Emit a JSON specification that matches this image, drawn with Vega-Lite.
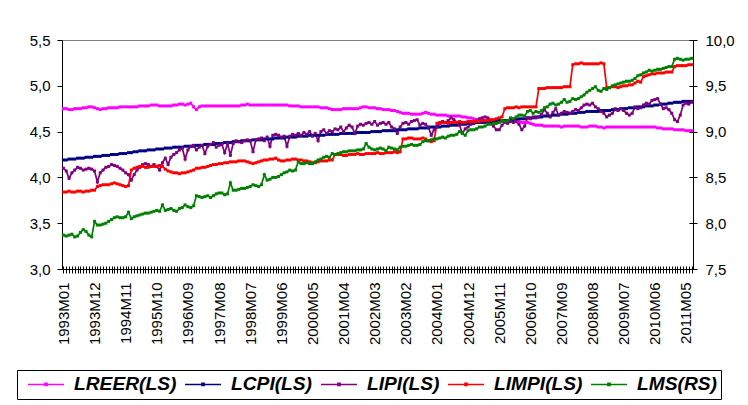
{
  "$schema": "https://vega.github.io/schema/vega-lite/v6.json",
  "width": 631,
  "height": 229,
  "autosize": {"type": "none"},
  "padding": {"left": 62, "top": 40, "right": 55, "bottom": 136},
  "background": "#ffffff",
  "config": {
    "font": "Liberation Sans",
    "view": {"stroke": "#808080", "strokeWidth": 1}
  },
  "datasets": {
    "monthly": [
      {"m":"1993M01","LREER":4.75,"LCPI":4.19,"LIPI":4.10,"LIMPI":3.84,"LMS":7.87},
      {"m":"1993M02","LREER":4.75,"LCPI":4.19,"LIPI":4.07,"LIMPI":3.84,"LMS":7.86},
      {"m":"1993M03","LREER":4.74,"LCPI":4.20,"LIPI":3.99,"LIMPI":3.85,"LMS":7.87},
      {"m":"1993M04","LREER":4.74,"LCPI":4.20,"LIPI":4.05,"LIMPI":3.84,"LMS":7.88},
      {"m":"1993M05","LREER":4.75,"LCPI":4.20,"LIPI":4.08,"LIMPI":3.84,"LMS":7.85},
      {"m":"1993M06","LREER":4.75,"LCPI":4.21,"LIPI":4.11,"LIMPI":3.85,"LMS":7.86},
      {"m":"1993M07","LREER":4.75,"LCPI":4.21,"LIPI":4.10,"LIMPI":3.85,"LMS":7.90},
      {"m":"1993M08","LREER":4.76,"LCPI":4.21,"LIPI":4.08,"LIMPI":3.84,"LMS":7.93},
      {"m":"1993M09","LREER":4.76,"LCPI":4.22,"LIPI":4.09,"LIMPI":3.85,"LMS":7.91},
      {"m":"1993M10","LREER":4.77,"LCPI":4.22,"LIPI":4.10,"LIMPI":3.85,"LMS":7.87},
      {"m":"1993M11","LREER":4.77,"LCPI":4.22,"LIPI":4.09,"LIMPI":3.86,"LMS":7.85},
      {"m":"1993M12","LREER":4.76,"LCPI":4.23,"LIPI":4.07,"LIMPI":3.86,"LMS":8.02},
      {"m":"1994M01","LREER":4.75,"LCPI":4.23,"LIPI":3.95,"LIMPI":3.90,"LMS":7.98},
      {"m":"1994M02","LREER":4.74,"LCPI":4.23,"LIPI":4.05,"LIMPI":3.91,"LMS":7.98},
      {"m":"1994M03","LREER":4.75,"LCPI":4.24,"LIPI":4.08,"LIMPI":3.92,"LMS":7.99},
      {"m":"1994M04","LREER":4.75,"LCPI":4.24,"LIPI":4.11,"LIMPI":3.92,"LMS":8.00},
      {"m":"1994M05","LREER":4.76,"LCPI":4.24,"LIPI":4.12,"LIMPI":3.92,"LMS":8.02},
      {"m":"1994M06","LREER":4.76,"LCPI":4.25,"LIPI":4.14,"LIMPI":3.93,"LMS":8.04},
      {"m":"1994M07","LREER":4.76,"LCPI":4.25,"LIPI":4.13,"LIMPI":3.94,"LMS":8.06},
      {"m":"1994M08","LREER":4.76,"LCPI":4.25,"LIPI":4.12,"LIMPI":3.93,"LMS":8.07},
      {"m":"1994M09","LREER":4.77,"LCPI":4.26,"LIPI":4.10,"LIMPI":3.92,"LMS":8.06},
      {"m":"1994M10","LREER":4.77,"LCPI":4.26,"LIPI":4.08,"LIMPI":3.91,"LMS":8.06},
      {"m":"1994M11","LREER":4.77,"LCPI":4.26,"LIPI":4.05,"LIMPI":3.90,"LMS":8.07},
      {"m":"1994M12","LREER":4.77,"LCPI":4.27,"LIPI":4.03,"LIMPI":3.91,"LMS":8.12},
      {"m":"1995M01","LREER":4.77,"LCPI":4.27,"LIPI":3.97,"LIMPI":4.08,"LMS":8.05},
      {"m":"1995M02","LREER":4.77,"LCPI":4.28,"LIPI":4.03,"LIMPI":4.10,"LMS":8.07},
      {"m":"1995M03","LREER":4.77,"LCPI":4.28,"LIPI":4.08,"LIMPI":4.11,"LMS":8.08},
      {"m":"1995M04","LREER":4.78,"LCPI":4.29,"LIPI":4.11,"LIMPI":4.12,"LMS":8.09},
      {"m":"1995M05","LREER":4.78,"LCPI":4.29,"LIPI":4.14,"LIMPI":4.12,"LMS":8.10},
      {"m":"1995M06","LREER":4.78,"LCPI":4.29,"LIPI":4.15,"LIMPI":4.11,"LMS":8.11},
      {"m":"1995M07","LREER":4.78,"LCPI":4.30,"LIPI":4.14,"LIMPI":4.11,"LMS":8.11},
      {"m":"1995M08","LREER":4.79,"LCPI":4.30,"LIPI":4.12,"LIMPI":4.12,"LMS":8.12},
      {"m":"1995M09","LREER":4.79,"LCPI":4.30,"LIPI":4.14,"LIMPI":4.12,"LMS":8.13},
      {"m":"1995M10","LREER":4.79,"LCPI":4.31,"LIPI":4.12,"LIMPI":4.12,"LMS":8.14},
      {"m":"1995M11","LREER":4.78,"LCPI":4.31,"LIPI":4.08,"LIMPI":4.13,"LMS":8.13},
      {"m":"1995M12","LREER":4.78,"LCPI":4.31,"LIPI":4.16,"LIMPI":4.12,"LMS":8.20},
      {"m":"1996M01","LREER":4.78,"LCPI":4.32,"LIPI":4.21,"LIMPI":4.09,"LMS":8.14},
      {"m":"1996M02","LREER":4.78,"LCPI":4.32,"LIPI":4.14,"LIMPI":4.07,"LMS":8.15},
      {"m":"1996M03","LREER":4.78,"LCPI":4.32,"LIPI":4.22,"LIMPI":4.06,"LMS":8.16},
      {"m":"1996M04","LREER":4.79,"LCPI":4.33,"LIPI":4.25,"LIMPI":4.05,"LMS":8.14},
      {"m":"1996M05","LREER":4.79,"LCPI":4.33,"LIPI":4.27,"LIMPI":4.05,"LMS":8.13},
      {"m":"1996M06","LREER":4.80,"LCPI":4.33,"LIPI":4.30,"LIMPI":4.04,"LMS":8.16},
      {"m":"1996M07","LREER":4.80,"LCPI":4.33,"LIPI":4.32,"LIMPI":4.05,"LMS":8.17},
      {"m":"1996M08","LREER":4.79,"LCPI":4.34,"LIPI":4.20,"LIMPI":4.05,"LMS":8.20},
      {"m":"1996M09","LREER":4.80,"LCPI":4.34,"LIPI":4.30,"LIMPI":4.06,"LMS":8.18},
      {"m":"1996M10","LREER":4.81,"LCPI":4.34,"LIPI":4.34,"LIMPI":4.07,"LMS":8.17},
      {"m":"1996M11","LREER":4.77,"LCPI":4.34,"LIPI":4.35,"LIMPI":4.08,"LMS":8.19},
      {"m":"1996M12","LREER":4.74,"LCPI":4.35,"LIPI":4.30,"LIMPI":4.10,"LMS":8.30},
      {"m":"1997M01","LREER":4.77,"LCPI":4.35,"LIPI":4.33,"LIMPI":4.10,"LMS":8.29},
      {"m":"1997M02","LREER":4.78,"LCPI":4.35,"LIPI":4.35,"LIMPI":4.11,"LMS":8.28},
      {"m":"1997M03","LREER":4.78,"LCPI":4.36,"LIPI":4.26,"LIMPI":4.11,"LMS":8.29},
      {"m":"1997M04","LREER":4.78,"LCPI":4.36,"LIPI":4.34,"LIMPI":4.12,"LMS":8.30},
      {"m":"1997M05","LREER":4.78,"LCPI":4.36,"LIPI":4.36,"LIMPI":4.13,"LMS":8.28},
      {"m":"1997M06","LREER":4.78,"LCPI":4.36,"LIPI":4.38,"LIMPI":4.14,"LMS":8.30},
      {"m":"1997M07","LREER":4.78,"LCPI":4.37,"LIPI":4.33,"LIMPI":4.14,"LMS":8.32},
      {"m":"1997M08","LREER":4.78,"LCPI":4.37,"LIPI":4.35,"LIMPI":4.15,"LMS":8.33},
      {"m":"1997M09","LREER":4.78,"LCPI":4.37,"LIPI":4.36,"LIMPI":4.15,"LMS":8.33},
      {"m":"1997M10","LREER":4.78,"LCPI":4.38,"LIPI":4.27,"LIMPI":4.16,"LMS":8.31},
      {"m":"1997M11","LREER":4.78,"LCPI":4.38,"LIPI":4.37,"LIMPI":4.16,"LMS":8.32},
      {"m":"1997M12","LREER":4.78,"LCPI":4.38,"LIPI":4.24,"LIMPI":4.17,"LMS":8.44},
      {"m":"1998M01","LREER":4.78,"LCPI":4.39,"LIPI":4.37,"LIMPI":4.17,"LMS":8.36},
      {"m":"1998M02","LREER":4.78,"LCPI":4.39,"LIPI":4.40,"LIMPI":4.17,"LMS":8.36},
      {"m":"1998M03","LREER":4.78,"LCPI":4.39,"LIPI":4.39,"LIMPI":4.18,"LMS":8.37},
      {"m":"1998M04","LREER":4.79,"LCPI":4.40,"LIPI":4.38,"LIMPI":4.18,"LMS":8.38},
      {"m":"1998M05","LREER":4.79,"LCPI":4.40,"LIPI":4.40,"LIMPI":4.18,"LMS":8.38},
      {"m":"1998M06","LREER":4.80,"LCPI":4.40,"LIPI":4.41,"LIMPI":4.17,"LMS":8.39},
      {"m":"1998M07","LREER":4.79,"LCPI":4.40,"LIPI":4.40,"LIMPI":4.16,"LMS":8.40},
      {"m":"1998M08","LREER":4.79,"LCPI":4.41,"LIPI":4.28,"LIMPI":4.15,"LMS":8.42},
      {"m":"1998M09","LREER":4.79,"LCPI":4.41,"LIPI":4.41,"LIMPI":4.16,"LMS":8.41},
      {"m":"1998M10","LREER":4.79,"LCPI":4.41,"LIPI":4.42,"LIMPI":4.17,"LMS":8.40},
      {"m":"1998M11","LREER":4.79,"LCPI":4.41,"LIPI":4.43,"LIMPI":4.18,"LMS":8.42},
      {"m":"1998M12","LREER":4.79,"LCPI":4.42,"LIPI":4.40,"LIMPI":4.19,"LMS":8.53},
      {"m":"1999M01","LREER":4.79,"LCPI":4.42,"LIPI":4.44,"LIMPI":4.19,"LMS":8.47},
      {"m":"1999M02","LREER":4.79,"LCPI":4.42,"LIPI":4.34,"LIMPI":4.20,"LMS":8.48},
      {"m":"1999M03","LREER":4.79,"LCPI":4.42,"LIPI":4.46,"LIMPI":4.20,"LMS":8.50},
      {"m":"1999M04","LREER":4.79,"LCPI":4.43,"LIPI":4.47,"LIMPI":4.21,"LMS":8.50},
      {"m":"1999M05","LREER":4.79,"LCPI":4.43,"LIPI":4.46,"LIMPI":4.19,"LMS":8.51},
      {"m":"1999M06","LREER":4.79,"LCPI":4.43,"LIPI":4.44,"LIMPI":4.18,"LMS":8.53},
      {"m":"1999M07","LREER":4.79,"LCPI":4.43,"LIPI":4.45,"LIMPI":4.18,"LMS":8.55},
      {"m":"1999M08","LREER":4.79,"LCPI":4.44,"LIPI":4.34,"LIMPI":4.19,"LMS":8.56},
      {"m":"1999M09","LREER":4.78,"LCPI":4.44,"LIPI":4.45,"LIMPI":4.19,"LMS":8.58},
      {"m":"1999M10","LREER":4.78,"LCPI":4.44,"LIPI":4.47,"LIMPI":4.20,"LMS":8.57},
      {"m":"1999M11","LREER":4.78,"LCPI":4.44,"LIPI":4.46,"LIMPI":4.20,"LMS":8.58},
      {"m":"1999M12","LREER":4.78,"LCPI":4.45,"LIPI":4.48,"LIMPI":4.19,"LMS":8.67},
      {"m":"2000M01","LREER":4.77,"LCPI":4.45,"LIPI":4.46,"LIMPI":4.19,"LMS":8.65},
      {"m":"2000M02","LREER":4.77,"LCPI":4.45,"LIPI":4.49,"LIMPI":4.18,"LMS":8.65},
      {"m":"2000M03","LREER":4.77,"LCPI":4.45,"LIPI":4.47,"LIMPI":4.18,"LMS":8.66},
      {"m":"2000M04","LREER":4.77,"LCPI":4.46,"LIPI":4.50,"LIMPI":4.17,"LMS":8.65},
      {"m":"2000M05","LREER":4.77,"LCPI":4.46,"LIPI":4.45,"LIMPI":4.16,"LMS":8.65},
      {"m":"2000M06","LREER":4.77,"LCPI":4.46,"LIPI":4.48,"LIMPI":4.16,"LMS":8.67},
      {"m":"2000M07","LREER":4.77,"LCPI":4.46,"LIPI":4.40,"LIMPI":4.17,"LMS":8.69},
      {"m":"2000M08","LREER":4.76,"LCPI":4.46,"LIPI":4.50,"LIMPI":4.18,"LMS":8.70},
      {"m":"2000M09","LREER":4.76,"LCPI":4.46,"LIPI":4.52,"LIMPI":4.18,"LMS":8.72},
      {"m":"2000M10","LREER":4.76,"LCPI":4.47,"LIPI":4.48,"LIMPI":4.18,"LMS":8.73},
      {"m":"2000M11","LREER":4.75,"LCPI":4.47,"LIPI":4.51,"LIMPI":4.19,"LMS":8.72},
      {"m":"2000M12","LREER":4.74,"LCPI":4.47,"LIPI":4.50,"LIMPI":4.19,"LMS":8.76},
      {"m":"2001M01","LREER":4.74,"LCPI":4.47,"LIPI":4.53,"LIMPI":4.25,"LMS":8.75},
      {"m":"2001M02","LREER":4.74,"LCPI":4.47,"LIPI":4.52,"LIMPI":4.25,"LMS":8.76},
      {"m":"2001M03","LREER":4.74,"LCPI":4.48,"LIPI":4.55,"LIMPI":4.25,"LMS":8.77},
      {"m":"2001M04","LREER":4.75,"LCPI":4.48,"LIPI":4.50,"LIMPI":4.24,"LMS":8.78},
      {"m":"2001M05","LREER":4.75,"LCPI":4.48,"LIPI":4.54,"LIMPI":4.24,"LMS":8.78},
      {"m":"2001M06","LREER":4.75,"LCPI":4.48,"LIPI":4.57,"LIMPI":4.25,"LMS":8.79},
      {"m":"2001M07","LREER":4.75,"LCPI":4.48,"LIPI":4.55,"LIMPI":4.25,"LMS":8.79},
      {"m":"2001M08","LREER":4.75,"LCPI":4.48,"LIPI":4.48,"LIMPI":4.25,"LMS":8.79},
      {"m":"2001M09","LREER":4.75,"LCPI":4.49,"LIPI":4.56,"LIMPI":4.26,"LMS":8.80},
      {"m":"2001M10","LREER":4.76,"LCPI":4.49,"LIPI":4.58,"LIMPI":4.25,"LMS":8.80},
      {"m":"2001M11","LREER":4.77,"LCPI":4.49,"LIPI":4.57,"LIMPI":4.25,"LMS":8.81},
      {"m":"2001M12","LREER":4.77,"LCPI":4.49,"LIPI":4.59,"LIMPI":4.26,"LMS":8.87},
      {"m":"2002M01","LREER":4.76,"LCPI":4.49,"LIPI":4.60,"LIMPI":4.26,"LMS":8.83},
      {"m":"2002M02","LREER":4.76,"LCPI":4.50,"LIPI":4.58,"LIMPI":4.26,"LMS":8.81},
      {"m":"2002M03","LREER":4.76,"LCPI":4.50,"LIPI":4.61,"LIMPI":4.26,"LMS":8.80},
      {"m":"2002M04","LREER":4.75,"LCPI":4.50,"LIPI":4.57,"LIMPI":4.27,"LMS":8.81},
      {"m":"2002M05","LREER":4.75,"LCPI":4.50,"LIPI":4.59,"LIMPI":4.26,"LMS":8.82},
      {"m":"2002M06","LREER":4.74,"LCPI":4.51,"LIPI":4.60,"LIMPI":4.26,"LMS":8.81},
      {"m":"2002M07","LREER":4.74,"LCPI":4.51,"LIPI":4.58,"LIMPI":4.27,"LMS":8.79},
      {"m":"2002M08","LREER":4.74,"LCPI":4.51,"LIPI":4.60,"LIMPI":4.27,"LMS":8.83},
      {"m":"2002M09","LREER":4.73,"LCPI":4.51,"LIPI":4.55,"LIMPI":4.27,"LMS":8.82},
      {"m":"2002M10","LREER":4.73,"LCPI":4.51,"LIPI":4.53,"LIMPI":4.28,"LMS":8.81},
      {"m":"2002M11","LREER":4.72,"LCPI":4.52,"LIPI":4.48,"LIMPI":4.27,"LMS":8.80},
      {"m":"2002M12","LREER":4.71,"LCPI":4.52,"LIPI":4.55,"LIMPI":4.28,"LMS":8.83},
      {"m":"2003M01","LREER":4.70,"LCPI":4.52,"LIPI":4.59,"LIMPI":4.42,"LMS":8.84},
      {"m":"2003M02","LREER":4.70,"LCPI":4.52,"LIPI":4.60,"LIMPI":4.42,"LMS":8.84},
      {"m":"2003M03","LREER":4.70,"LCPI":4.53,"LIPI":4.58,"LIMPI":4.43,"LMS":8.85},
      {"m":"2003M04","LREER":4.69,"LCPI":4.53,"LIPI":4.61,"LIMPI":4.43,"LMS":8.86},
      {"m":"2003M05","LREER":4.69,"LCPI":4.53,"LIPI":4.62,"LIMPI":4.42,"LMS":8.85},
      {"m":"2003M06","LREER":4.69,"LCPI":4.53,"LIPI":4.63,"LIMPI":4.42,"LMS":8.85},
      {"m":"2003M07","LREER":4.69,"LCPI":4.54,"LIPI":4.57,"LIMPI":4.42,"LMS":8.86},
      {"m":"2003M08","LREER":4.70,"LCPI":4.54,"LIPI":4.59,"LIMPI":4.43,"LMS":8.89},
      {"m":"2003M09","LREER":4.71,"LCPI":4.54,"LIPI":4.58,"LIMPI":4.42,"LMS":8.90},
      {"m":"2003M10","LREER":4.70,"LCPI":4.54,"LIPI":4.55,"LIMPI":4.40,"LMS":8.90},
      {"m":"2003M11","LREER":4.69,"LCPI":4.55,"LIPI":4.46,"LIMPI":4.39,"LMS":8.91},
      {"m":"2003M12","LREER":4.69,"LCPI":4.55,"LIPI":4.52,"LIMPI":4.40,"LMS":8.92},
      {"m":"2004M01","LREER":4.68,"LCPI":4.55,"LIPI":4.55,"LIMPI":4.59,"LMS":8.92},
      {"m":"2004M02","LREER":4.68,"LCPI":4.55,"LIPI":4.59,"LIMPI":4.60,"LMS":8.93},
      {"m":"2004M03","LREER":4.68,"LCPI":4.56,"LIPI":4.61,"LIMPI":4.60,"LMS":8.94},
      {"m":"2004M04","LREER":4.68,"LCPI":4.56,"LIPI":4.60,"LIMPI":4.60,"LMS":8.93},
      {"m":"2004M05","LREER":4.67,"LCPI":4.56,"LIPI":4.62,"LIMPI":4.59,"LMS":8.95},
      {"m":"2004M06","LREER":4.67,"LCPI":4.57,"LIPI":4.65,"LIMPI":4.60,"LMS":8.96},
      {"m":"2004M07","LREER":4.67,"LCPI":4.57,"LIPI":4.63,"LIMPI":4.60,"LMS":8.96},
      {"m":"2004M08","LREER":4.67,"LCPI":4.57,"LIPI":4.60,"LIMPI":4.60,"LMS":8.97},
      {"m":"2004M09","LREER":4.67,"LCPI":4.58,"LIPI":4.57,"LIMPI":4.61,"LMS":9.00},
      {"m":"2004M10","LREER":4.66,"LCPI":4.58,"LIPI":4.48,"LIMPI":4.60,"LMS":8.98},
      {"m":"2004M11","LREER":4.66,"LCPI":4.58,"LIPI":4.53,"LIMPI":4.60,"LMS":8.96},
      {"m":"2004M12","LREER":4.65,"LCPI":4.59,"LIPI":4.55,"LIMPI":4.61,"LMS":9.01},
      {"m":"2005M01","LREER":4.65,"LCPI":4.59,"LIPI":4.58,"LIMPI":4.61,"LMS":9.02},
      {"m":"2005M02","LREER":4.64,"LCPI":4.59,"LIPI":4.60,"LIMPI":4.61,"LMS":9.02},
      {"m":"2005M03","LREER":4.63,"LCPI":4.60,"LIPI":4.62,"LIMPI":4.61,"LMS":9.03},
      {"m":"2005M04","LREER":4.63,"LCPI":4.60,"LIPI":4.64,"LIMPI":4.61,"LMS":9.05},
      {"m":"2005M05","LREER":4.63,"LCPI":4.60,"LIPI":4.65,"LIMPI":4.62,"LMS":9.05},
      {"m":"2005M06","LREER":4.62,"LCPI":4.60,"LIPI":4.66,"LIMPI":4.62,"LMS":9.06},
      {"m":"2005M07","LREER":4.62,"LCPI":4.61,"LIPI":4.65,"LIMPI":4.62,"LMS":9.08},
      {"m":"2005M08","LREER":4.61,"LCPI":4.61,"LIPI":4.62,"LIMPI":4.63,"LMS":9.08},
      {"m":"2005M09","LREER":4.61,"LCPI":4.61,"LIPI":4.56,"LIMPI":4.63,"LMS":9.09},
      {"m":"2005M10","LREER":4.61,"LCPI":4.61,"LIPI":4.52,"LIMPI":4.64,"LMS":9.09},
      {"m":"2005M11","LREER":4.61,"LCPI":4.62,"LIPI":4.52,"LIMPI":4.65,"LMS":9.10},
      {"m":"2005M12","LREER":4.61,"LCPI":4.62,"LIPI":4.57,"LIMPI":4.66,"LMS":9.12},
      {"m":"2006M01","LREER":4.61,"LCPI":4.62,"LIPI":4.60,"LIMPI":4.75,"LMS":9.11},
      {"m":"2006M02","LREER":4.61,"LCPI":4.62,"LIPI":4.59,"LIMPI":4.76,"LMS":9.12},
      {"m":"2006M03","LREER":4.61,"LCPI":4.63,"LIPI":4.61,"LIMPI":4.76,"LMS":9.15},
      {"m":"2006M04","LREER":4.61,"LCPI":4.63,"LIPI":4.60,"LIMPI":4.76,"LMS":9.14},
      {"m":"2006M05","LREER":4.61,"LCPI":4.63,"LIPI":4.61,"LIMPI":4.77,"LMS":9.16},
      {"m":"2006M06","LREER":4.61,"LCPI":4.64,"LIPI":4.58,"LIMPI":4.76,"LMS":9.18},
      {"m":"2006M07","LREER":4.60,"LCPI":4.64,"LIPI":4.52,"LIMPI":4.77,"LMS":9.18},
      {"m":"2006M08","LREER":4.60,"LCPI":4.64,"LIPI":4.56,"LIMPI":4.77,"LMS":9.17},
      {"m":"2006M09","LREER":4.60,"LCPI":4.65,"LIPI":4.65,"LIMPI":4.77,"LMS":9.22},
      {"m":"2006M10","LREER":4.59,"LCPI":4.65,"LIPI":4.64,"LIMPI":4.77,"LMS":9.23},
      {"m":"2006M11","LREER":4.58,"LCPI":4.65,"LIPI":4.66,"LIMPI":4.77,"LMS":9.20},
      {"m":"2006M12","LREER":4.57,"LCPI":4.66,"LIPI":4.65,"LIMPI":4.77,"LMS":9.22},
      {"m":"2007M01","LREER":4.57,"LCPI":4.66,"LIPI":4.66,"LIMPI":4.97,"LMS":9.21},
      {"m":"2007M02","LREER":4.57,"LCPI":4.66,"LIPI":4.69,"LIMPI":4.97,"LMS":9.23},
      {"m":"2007M03","LREER":4.56,"LCPI":4.67,"LIPI":4.74,"LIMPI":4.97,"LMS":9.26},
      {"m":"2007M04","LREER":4.56,"LCPI":4.67,"LIPI":4.70,"LIMPI":4.98,"LMS":9.27},
      {"m":"2007M05","LREER":4.56,"LCPI":4.67,"LIPI":4.66,"LIMPI":4.98,"LMS":9.30},
      {"m":"2007M06","LREER":4.56,"LCPI":4.68,"LIPI":4.71,"LIMPI":4.98,"LMS":9.31},
      {"m":"2007M07","LREER":4.56,"LCPI":4.68,"LIPI":4.75,"LIMPI":4.98,"LMS":9.29},
      {"m":"2007M08","LREER":4.56,"LCPI":4.68,"LIPI":4.68,"LIMPI":4.98,"LMS":9.30},
      {"m":"2007M09","LREER":4.55,"LCPI":4.69,"LIPI":4.70,"LIMPI":4.98,"LMS":9.32},
      {"m":"2007M10","LREER":4.56,"LCPI":4.69,"LIPI":4.72,"LIMPI":4.99,"LMS":9.35},
      {"m":"2007M11","LREER":4.56,"LCPI":4.69,"LIPI":4.71,"LIMPI":4.99,"LMS":9.32},
      {"m":"2007M12","LREER":4.56,"LCPI":4.70,"LIPI":4.70,"LIMPI":4.99,"LMS":9.33},
      {"m":"2008M01","LREER":4.56,"LCPI":4.70,"LIPI":4.72,"LIMPI":5.23,"LMS":9.36},
      {"m":"2008M02","LREER":4.56,"LCPI":4.70,"LIPI":4.74,"LIMPI":5.24,"LMS":9.35},
      {"m":"2008M03","LREER":4.56,"LCPI":4.71,"LIPI":4.73,"LIMPI":5.24,"LMS":9.36},
      {"m":"2008M04","LREER":4.55,"LCPI":4.71,"LIPI":4.76,"LIMPI":5.25,"LMS":9.38},
      {"m":"2008M05","LREER":4.55,"LCPI":4.71,"LIPI":4.79,"LIMPI":5.24,"LMS":9.40},
      {"m":"2008M06","LREER":4.55,"LCPI":4.72,"LIPI":4.80,"LIMPI":5.24,"LMS":9.43},
      {"m":"2008M07","LREER":4.56,"LCPI":4.72,"LIPI":4.79,"LIMPI":5.24,"LMS":9.45},
      {"m":"2008M08","LREER":4.56,"LCPI":4.72,"LIPI":4.81,"LIMPI":5.24,"LMS":9.47},
      {"m":"2008M09","LREER":4.56,"LCPI":4.72,"LIPI":4.77,"LIMPI":5.24,"LMS":9.49},
      {"m":"2008M10","LREER":4.55,"LCPI":4.72,"LIPI":4.75,"LIMPI":5.24,"LMS":9.45},
      {"m":"2008M11","LREER":4.55,"LCPI":4.73,"LIPI":4.72,"LIMPI":5.25,"LMS":9.44},
      {"m":"2008M12","LREER":4.54,"LCPI":4.73,"LIPI":4.70,"LIMPI":5.24,"LMS":9.47},
      {"m":"2009M01","LREER":4.55,"LCPI":4.73,"LIPI":4.66,"LIMPI":4.98,"LMS":9.46},
      {"m":"2009M02","LREER":4.55,"LCPI":4.73,"LIPI":4.68,"LIMPI":4.98,"LMS":9.48},
      {"m":"2009M03","LREER":4.55,"LCPI":4.74,"LIPI":4.70,"LIMPI":4.99,"LMS":9.50},
      {"m":"2009M04","LREER":4.55,"LCPI":4.74,"LIPI":4.75,"LIMPI":4.99,"LMS":9.51},
      {"m":"2009M05","LREER":4.55,"LCPI":4.74,"LIPI":4.73,"LIMPI":4.98,"LMS":9.52},
      {"m":"2009M06","LREER":4.55,"LCPI":4.75,"LIPI":4.75,"LIMPI":4.99,"LMS":9.53},
      {"m":"2009M07","LREER":4.55,"LCPI":4.75,"LIPI":4.73,"LIMPI":5.00,"LMS":9.54},
      {"m":"2009M08","LREER":4.55,"LCPI":4.75,"LIPI":4.70,"LIMPI":5.00,"LMS":9.55},
      {"m":"2009M09","LREER":4.55,"LCPI":4.76,"LIPI":4.68,"LIMPI":5.01,"LMS":9.55},
      {"m":"2009M10","LREER":4.55,"LCPI":4.76,"LIPI":4.70,"LIMPI":5.01,"LMS":9.56},
      {"m":"2009M11","LREER":4.55,"LCPI":4.76,"LIPI":4.77,"LIMPI":5.03,"LMS":9.58},
      {"m":"2009M12","LREER":4.55,"LCPI":4.77,"LIPI":4.75,"LIMPI":5.05,"LMS":9.61},
      {"m":"2010M01","LREER":4.55,"LCPI":4.77,"LIPI":4.76,"LIMPI":5.04,"LMS":9.62},
      {"m":"2010M02","LREER":4.55,"LCPI":4.77,"LIPI":4.79,"LIMPI":5.10,"LMS":9.64},
      {"m":"2010M03","LREER":4.55,"LCPI":4.78,"LIPI":4.81,"LIMPI":5.11,"LMS":9.65},
      {"m":"2010M04","LREER":4.55,"LCPI":4.78,"LIPI":4.80,"LIMPI":5.12,"LMS":9.67},
      {"m":"2010M05","LREER":4.55,"LCPI":4.78,"LIPI":4.84,"LIMPI":5.13,"LMS":9.66},
      {"m":"2010M06","LREER":4.55,"LCPI":4.79,"LIPI":4.85,"LIMPI":5.13,"LMS":9.67},
      {"m":"2010M07","LREER":4.54,"LCPI":4.79,"LIPI":4.86,"LIMPI":5.14,"LMS":9.68},
      {"m":"2010M08","LREER":4.54,"LCPI":4.80,"LIPI":4.80,"LIMPI":5.14,"LMS":9.68},
      {"m":"2010M09","LREER":4.53,"LCPI":4.80,"LIPI":4.75,"LIMPI":5.14,"LMS":9.69},
      {"m":"2010M10","LREER":4.53,"LCPI":4.80,"LIPI":4.76,"LIMPI":5.15,"LMS":9.70},
      {"m":"2010M11","LREER":4.53,"LCPI":4.81,"LIPI":4.74,"LIMPI":5.15,"LMS":9.71},
      {"m":"2010M12","LREER":4.53,"LCPI":4.81,"LIPI":4.70,"LIMPI":5.15,"LMS":9.71},
      {"m":"2011M01","LREER":4.52,"LCPI":4.82,"LIPI":4.63,"LIMPI":5.21,"LMS":9.79},
      {"m":"2011M02","LREER":4.52,"LCPI":4.82,"LIPI":4.61,"LIMPI":5.22,"LMS":9.80},
      {"m":"2011M03","LREER":4.52,"LCPI":4.82,"LIPI":4.68,"LIMPI":5.22,"LMS":9.79},
      {"m":"2011M04","LREER":4.52,"LCPI":4.83,"LIPI":4.79,"LIMPI":5.22,"LMS":9.78},
      {"m":"2011M05","LREER":4.51,"LCPI":4.83,"LIPI":4.81,"LIMPI":5.22,"LMS":9.79},
      {"m":"2011M06","LREER":4.51,"LCPI":4.83,"LIPI":4.80,"LIMPI":5.23,"LMS":9.79},
      {"m":"2011M07","LREER":4.51,"LCPI":4.83,"LIPI":4.82,"LIMPI":5.23,"LMS":9.80}
    ]
  },
  "data": {"name": "monthly"},
  "resolve": {
    "scale": {"y": "independent"},
    "axis": {"x": "independent", "y": "independent"}
  },
  "layer": [
    {
      "transform": [{"fold": ["LREER", "LCPI", "LIPI", "LIMPI"], "as": ["series", "value"]}],
      "mark": {"type": "line", "strokeWidth": 1.7, "point": {"filled": true, "shape": "square", "size": 9}},
      "encoding": {
        "x": {
          "field": "m", "type": "ordinal",
          "scale": {"type": "point", "padding": 0.5},
          "axis": {
            "title": null, "orient": "bottom", "ticks": true,
            "domainColor": "#000000", "tickColor": "#000000", "tickSize": 4, "tickWidth": 1, "tickOpacity": 1,
            "labelAngle": -90, "labelFont": "Liberation Sans", "labelFontSize": 15, "labelColor": "#000000",
            "labelPadding": 9, "labelOverlap": false, "labelBound": false, "labelFlush": false,
            "labelExpr": "((toNumber(substring(datum.value,0,4))-1993)*12+toNumber(substring(datum.value,5,7))-1) % 11 == 0 ? datum.value : ''"
          }
        },
        "y": {
          "field": "value", "type": "quantitative",
          "scale": {"domain": [3, 5.5], "nice": false, "zero": false},
          "axis": {
            "title": null, "orient": "left", "grid": false,
            "values": [3, 3.5, 4, 4.5, 5, 5.5],
            "domainColor": "#000000", "tickColor": "#000000", "tickSize": 5,
            "labelPadding": 7, "labelFont": "Liberation Sans", "labelFontSize": 15, "labelColor": "#000000",
            "labelExpr": "replace(format(datum.value, '.1f'), '.', ',')"
          }
        },
        "color": {
          "field": "series", "type": "nominal",
          "scale": {
            "domain": ["LREER", "LCPI", "LIPI", "LIMPI", "LMS"],
            "range": ["#ff00ff", "#000080", "#800080", "#ff0000", "#008000"]
          },
          "legend": {
            "title": null, "orient": "none", "legendX": -45, "legendY": 330,
            "direction": "horizontal", "columns": 5, "columnPadding": 1,
            "strokeColor": "#000000", "fillColor": "#ffffff", "padding": 4,
            "symbolType": "M-1,0H1M-0.06,-0.06H0.06V0.06H-0.06Z", "symbolSize": 1296,
            "symbolStrokeWidth": 1.5, "symbolOffset": 6, "clipHeight": 20,
            "labelFont": "Liberation Sans", "labelFontSize": 19.2, "labelFontWeight": "bold",
            "labelFontStyle": "italic", "labelColor": "#000000", "labelOffset": 9, "labelLimit": 0,
            "labelExpr": "datum.label + (datum.label == 'LMS' ? '(RS)' : '(LS)')"
          }
        }
      }
    },
    {
      "transform": [{"fold": ["LMS"], "as": ["series", "value"]}],
      "mark": {"type": "line", "strokeWidth": 1.7, "point": {"filled": true, "shape": "square", "size": 9}},
      "encoding": {
        "x": {
          "field": "m", "type": "ordinal",
          "scale": {"type": "point", "padding": 0.5},
          "axis": {
            "title": null, "orient": "bottom", "offset": -3, "tickSize": 3, "ticks": true,
            "tickColor": "#000000", "tickOpacity": 1, "domain": false, "labels": false
          }
        },
        "y": {
          "field": "value", "type": "quantitative",
          "scale": {"domain": [7.5, 10], "nice": false, "zero": false},
          "axis": {
            "title": null, "orient": "right", "grid": false,
            "values": [7.5, 8, 8.5, 9, 9.5, 10],
            "domainColor": "#000000", "tickColor": "#000000", "tickSize": 4,
            "labelPadding": 8, "labelFont": "Liberation Sans", "labelFontSize": 15, "labelColor": "#000000",
            "labelExpr": "replace(format(datum.value, '.1f'), '.', ',')"
          }
        },
        "color": {"field": "series", "type": "nominal"}
      }
    },
    {
      "mark": {"type": "line", "opacity": 0},
      "encoding": {
        "x": {"field": "m", "type": "ordinal", "scale": {"type": "point", "padding": 0.5}, "axis": null},
        "y": {
          "field": "LMS", "type": "quantitative",
          "scale": {"domain": [7.5, 10], "nice": false, "zero": false},
          "axis": {
            "title": null, "orient": "right", "offset": -4, "tickSize": 4, "grid": false,
            "values": [7.5, 8, 8.5, 9, 9.5, 10],
            "tickColor": "#000000", "domain": false, "labels": false
          }
        }
      }
    }
  ]
}
